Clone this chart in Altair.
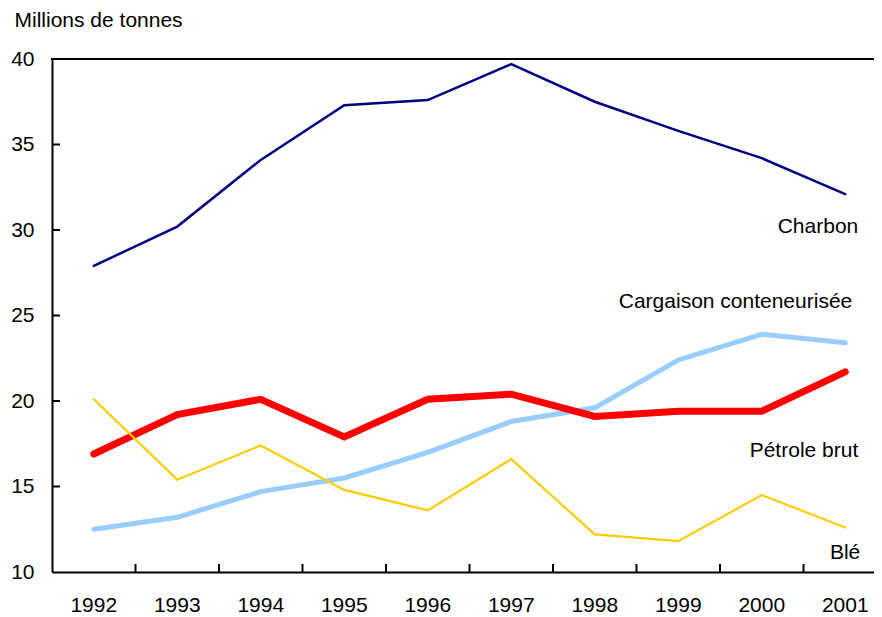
import altair as alt
import pandas as pd

years = [1992, 1993, 1994, 1995, 1996, 1997, 1998, 1999, 2000, 2001]
charbon = [27.9, 30.2, 34.1, 37.3, 37.6, 39.7, 37.5, 35.8, 34.2, 32.1]
petrole = [16.9, 19.2, 20.1, 17.9, 20.1, 20.4, 19.1, 19.4, 19.4, 21.7]
cargaison = [12.5, 13.2, 14.7, 15.5, 17.0, 18.8, 19.6, 22.4, 23.9, 23.4]
ble = [20.1, 15.4, 17.4, 14.8, 13.6, 16.6, 12.2, 11.8, 14.5, 12.6]

series_names = ["Cargaison conteneurisée", "Pétrole brut", "Blé", "Charbon"]
series_values = [cargaison, petrole, ble, charbon]
series_colors = ["#99CCFF", "#FF0000", "#FFCC00", "#000080"]
series_widths = [5, 7, 2.2, 2.5]

label_names = ["Charbon", "Cargaison conteneurisée", "Pétrole brut", "Blé"]
label_y = [30.2, 25.8, 17.1, 11.1]
label_dx = [13, 7, 13, 15]

y_ticks = [10, 15, 20, 25, 30, 35, 40]
inner_y_ticks = [15, 20, 25, 30, 35]

FONT = "Liberation Sans"
W, H = 822, 513

xscale = alt.Scale(type="band", paddingInner=0, paddingOuter=0, range=[0, 835])
yscale = alt.Scale(domain=[10, 40], nice=False, zero=False)

x_axis = alt.Axis(title=None, labelAngle=0, ticks=False, labelPadding=22,
                  labelFontSize=21, labelFont=FONT, labelColor="black",
                  domainColor="black", domainWidth=2, grid=False)
y_axis = alt.Axis(values=y_ticks, ticks=False, labelPadding=18, labelFontSize=21,
                  labelFont=FONT, labelColor="black", domainColor="black",
                  domainWidth=2, grid=False,
                  title="Millions de tonnes", titleAngle=0, titleAlign="left",
                  titleBaseline="alphabetic", titleX=-38, titleY=-33,
                  titleFontSize=21, titleFont=FONT, titleFontWeight="normal",
                  titleColor="black")


def X(bp=0.5):
    return alt.X("year:O", scale=xscale, bandPosition=bp, axis=x_axis)


def Y(field):
    return alt.Y(field, scale=yscale, axis=y_axis)


layers = []
for name, vals, col, sw in zip(series_names, series_values, series_colors, series_widths):
    df = pd.DataFrame({"year": years, "value": vals, "series": name})
    layers.append(
        alt.Chart(df).mark_line(color=col, strokeWidth=sw, strokeCap="round", strokeJoin="miter")
        .encode(x=X(), y=Y("value:Q"))
    )

# top border
top_df = pd.DataFrame({"value": [40]})
top = alt.Chart(top_df).mark_rule(color="black", strokeWidth=2).encode(
    y=Y("value:Q"), x=alt.value(-1), x2=alt.value(900)
)

# inward y ticks
yt_df = pd.DataFrame({"value": inner_y_ticks})
yt = alt.Chart(yt_df).mark_rule(color="black", strokeWidth=2).encode(
    y=Y("value:Q"), x=alt.value(0), x2=alt.value(8)
)

# inward x ticks at band boundaries
xt_df = pd.DataFrame({"year": years[1:]})
xt = alt.Chart(xt_df).mark_rule(color="black", strokeWidth=2).encode(
    x=X(0), y=alt.value(H), y2=alt.value(H - 8)
)

label_layers = []
for name, yv, dx in zip(label_names, label_y, label_dx):
    lab_df = pd.DataFrame({"year": [2001], "value": [yv], "label": [name]})
    label_layers.append(
        alt.Chart(lab_df).mark_text(align="right", baseline="middle", dx=dx,
                                    font=FONT, fontSize=21, color="black").encode(
            x=X(), y=Y("value:Q"), text="label:N",
        )
    )

chart = alt.layer(*layers, top, yt, xt, *label_layers).properties(
    width=W, height=H,
    autosize=alt.AutoSizeParams(type="none"),
    padding={"left": 44, "top": 51, "right": 0, "bottom": 45},
).configure_view(stroke=None).configure(background="white")

chart.save("out.html", embed_options={"renderer": "svg", "actions": False})
